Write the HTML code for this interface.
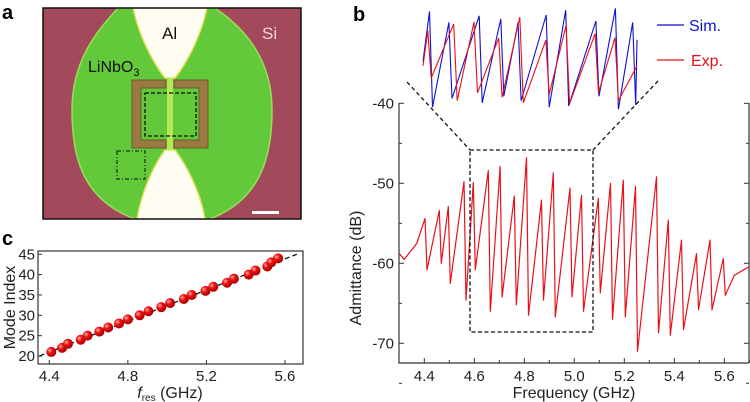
<!DOCTYPE html>
<html><head><meta charset="utf-8">
<style>
html,body{margin:0;padding:0;background:#fff;}
svg{display:block;font-family:"Liberation Sans",Arial,sans-serif;}
</style></head>
<body>
<svg id="fig" width="750" height="402" viewBox="0 0 750 402">
<!-- Panel a -->
<text x="2" y="19" font-size="20" font-weight="bold">a</text>
<g>
  <defs><clipPath id="clipA"><rect x="43" y="8" width="258" height="211"/></clipPath></defs>
  <g clip-path="url(#clipA)">
    <rect x="43" y="8" width="258" height="211" fill="#a24a5c"/>
    <path d="M118,8 C100,28 72,58 72,110 C72,160 84,200 135,219 L210,219 C259,200 272,160 272,110 C272,58 244,28 215,8 Z" fill="#62c93a" stroke="#9cdc5a" stroke-width="1.5"/>
    <path d="M133,8 L207,8 C200,40 185,65 175,78 L165,78 C155,65 140,40 133,8 Z" fill="#fffdf2" stroke="#e8e060" stroke-width="1.5"/>
    <path d="M137,219 L205,219 C200,190 186,165 175,150 L165,150 C154,165 142,190 137,219 Z" fill="#fffdf2" stroke="#e8e060" stroke-width="1.5"/>
    <rect x="167" y="78" width="6" height="72" fill="#b8e85a"/>
    <path d="M166,80 L132,80 L132,148 L166,148 L166,140 L141,140 L141,88 L166,88 Z" fill="#9a7a40" stroke="#6a5a30" stroke-width="1"/>
    <path d="M174,80 L208,80 L208,148 L174,148 L174,140 L199,140 L199,88 L174,88 Z" fill="#9a7a40" stroke="#6a5a30" stroke-width="1"/>
    <rect x="145" y="93" width="51" height="43" fill="none" stroke="#111" stroke-width="1.3" stroke-dasharray="4,2"/>
    <rect x="117" y="151" width="28" height="28" fill="none" stroke="#111" stroke-width="1" stroke-dasharray="4,2,1,2"/>
    <rect x="252" y="211" width="27" height="3" fill="#fff"/>
  </g>
  <rect x="43" y="8" width="258" height="211" fill="none" stroke="#111" stroke-width="1.5"/>
  <text x="162" y="39" font-size="17" fill="#111">Al</text>
  <text x="262" y="39" font-size="17" fill="#f0d8dc">Si</text>
  <text x="88" y="72" font-size="16" fill="#111">LiNbO<tspan font-size="11" dy="4">3</tspan></text>
</g>

<!-- Panel c -->
<text x="2" y="245" font-size="20" font-weight="bold">c</text>
<g id="panelC"></g>

<!-- Panel b -->
<text x="353" y="21" font-size="20" font-weight="bold">b</text>
<g id="panelB"></g>
</svg>
<script>
// ---- Panel c data ----
const modeIdx = [21,22,23,24,25,26,27,28,29,30,31,32,33,34,35,36,37,38,39,40,41,42,43,44];
const modeFreq = [4.41,4.465,4.495,4.56,4.595,4.655,4.70,4.755,4.80,4.86,4.905,4.97,5.015,5.085,5.125,5.195,5.235,5.305,5.34,5.415,5.45,5.51,5.53,5.565];
const cXTicks = [4.4,4.8,5.2,5.6];
const cYTicks = [20,25,30,35,40,45];
const fitLine = [[4.35,20],[5.66,45]];

// ---- Panel b data ----
const resFreq = [4.403,4.46,4.496,4.559,4.596,4.656,4.703,4.76,4.809,4.869,4.916,4.983,5.029,5.096,5.145,5.196,5.245,5.329,5.376,5.429,5.489,5.543,5.596];
const resPeak = [-54.4,-53.4,-52.9,-49.8,-49.9,-48.4,-47.9,-51.6,-46.8,-52.1,-48.7,-50.6,-51.5,-51.9,-50.0,-49.6,-50.4,-49.2,-54.6,-57.1,-58.8,-57.1,-59.4];
const resDip = [-60.8,-60.0,-62.5,-64.6,-60.8,-66.0,-64.2,-65.2,-66.5,-64.6,-66.7,-64.2,-66.0,-63.7,-67.0,-66.7,-71.0,-68.7,-69.0,-68.3,-65.8,-65.8,-64.0];
const expStart = [[4.30,-58.8],[4.32,-59.5],[4.35,-58.3],[4.37,-57.5]];
const expEnd = [[5.64,-61.5],[5.70,-60.4]];
const simFreq = [4.60,4.645,4.715,4.765,4.805,4.87,4.915,4.985,5.03,5.07];
const simPeak = [-45.5,-48.0,-46.5,-47.2,-48.0,-46.3,-45.2,-47.7,-44.8,-48.0];
const simDip = [-67.5,-65.5,-66.5,-65.0,-66.0,-67.5,-67.2,-65.0,-68.0,-67.0];
const bXTicks = [4.4,4.6,4.8,5.0,5.2,5.4,5.6];
const bYTicks = [-40,-50,-60,-70];

const NS = "http://www.w3.org/2000/svg";
function mk(tag, attrs, parent){ const e=document.createElementNS(NS,tag); for(const k in attrs) e.setAttribute(k,attrs[k]); parent.appendChild(e); return e; }

// ---------- Panel C ----------
(function(){
  const g=document.getElementById('panelC');
  const L=38,R=303,T=251,B=364;
  const xs=f=>49.3+(f-4.4)*196.4;
  const ys=v=>356-(v-20)*4.07;
  const frame=mk('rect',{x:L,y:T,width:R-L,height:B-T,fill:'none',stroke:'#333','stroke-width':1.2},g);
  
  
  cXTicks.forEach(t=>{
    mk('line',{x1:xs(t),x2:xs(t),y1:B,y2:B-4,stroke:'#333'},g);
    const tx=mk('text',{x:xs(t),y:B+17,'font-size':15,'text-anchor':'middle',fill:'#222'},g);
    tx.textContent=t.toFixed(1);
    
    
  });
  cYTicks.forEach(t=>{
    mk('line',{x1:L,x2:L+4,y1:ys(t),y2:ys(t),stroke:'#333'},g);
    const tx=mk('text',{x:L-3,y:ys(t)+5,'font-size':15,'text-anchor':'end',fill:'#222'},g);
    tx.textContent=t;
    
    
  });
  const fl=mk('line',{x1:xs(fitLine[0][0]),y1:ys(fitLine[0][1]),x2:xs(fitLine[1][0]),y2:ys(fitLine[1][1]),stroke:'#111','stroke-width':1.3,'stroke-dasharray':'5,3'},g);
  
  
  const defs=mk('defs',{},g);
  const rg=mk('radialGradient',{id:'ball',cx:'0.35',cy:'0.35',r:'0.7'},defs);
  mk('stop',{offset:'0',  'stop-color':'#ffb0b0'},rg);
  mk('stop',{offset:'0.4','stop-color':'#f01010'},rg);
  mk('stop',{offset:'1',  'stop-color':'#a00000'},rg);
  modeIdx.forEach((m,i)=>{
    const c=mk('circle',{cx:xs(modeFreq[i]),cy:ys(m),r:5,fill:'url(#ball)'},g);
    
    
  });
  const yl=mk('text',{x:0,y:0,'font-size':16,'text-anchor':'middle',fill:'#222',transform:`translate(15,${(T+B)/2}) rotate(-90)`},g);
  yl.textContent='Mode Index';
  
  
  const xl=mk('text',{x:170,y:398,'font-size':16,'text-anchor':'middle',fill:'#222'},g);
  xl.innerHTML='<tspan font-style="italic">f</tspan><tspan font-size="10" dy="3">res</tspan><tspan dy="-3"> (GHz)</tspan>';
  
  
})();

// ---------- Panel B ----------
(function(){
  const g=document.getElementById('panelB');
  const L=399,R=749,T=103,B=363;
  const xs=f=>424.3+(f-4.4)*250;
  const ys=v=>103.3-(v+40)*8;
  const ax=mk('path',{d:`M${L},${T} L${L},${B} L${R},${B} M${R},${T} L${R},${B}`,fill:'none',stroke:'#333','stroke-width':1.2},g);
  
  
  bXTicks.forEach(t=>{
    mk('line',{x1:xs(t),x2:xs(t),y1:B,y2:B-5,stroke:'#333'},g);
    mk('line',{x1:xs(t+0.1),x2:xs(t+0.1),y1:B,y2:B-3,stroke:'#333'},g);
    const tx=mk('text',{x:xs(t),y:B+18,'font-size':15,'text-anchor':'middle',fill:'#222'},g);
    tx.textContent=t.toFixed(1);
    
    
  });
  bYTicks.forEach(t=>{
    mk('line',{x1:L,x2:L+5,y1:ys(t),y2:ys(t),stroke:'#333'},g);
    mk('line',{x1:R,x2:R-5,y1:ys(t),y2:ys(t),stroke:'#333'},g);
    mk('line',{x1:L,x2:L+3,y1:ys(t-5),y2:ys(t-5),stroke:'#333'},g);
    mk('line',{x1:R,x2:R-3,y1:ys(t-5),y2:ys(t-5),stroke:'#333'},g);
    const tx=mk('text',{x:L-5,y:ys(t)+5,'font-size':15,'text-anchor':'end',fill:'#222'},g);
    tx.textContent=t;
    
    
  });
  const yl=mk('text',{x:0,y:0,'font-size':16,'text-anchor':'middle',fill:'#222',transform:`translate(361,${(T+B)/2+35}) rotate(-90)`},g);
  yl.textContent='Admittance (dB)';
  
  
  const xl=mk('text',{x:574,y:398,'font-size':16,'text-anchor':'middle',fill:'#222'},g);
  xl.textContent='Frequency (GHz)';
  
  

  let pts=expStart.map(p=>[p[0],p[1]]);
  resFreq.forEach((f,i)=>{ pts.push([f,resPeak[i]]); pts.push([f+0.008,resDip[i]]); });
  expEnd.forEach(p=>pts.push(p));
  const exp=mk('polyline',{points:pts.map(p=>xs(p[0]).toFixed(1)+','+ys(p[1]).toFixed(1)).join(' '),fill:'none',stroke:'#e8101a','stroke-width':1.2,'stroke-linejoin':'round'},g);
  
  

  const bx=mk('rect',{x:470,y:150,width:123,height:182,fill:'none',stroke:'#111','stroke-width':1.3,'stroke-dasharray':'4,2.5'},g);
  
  
  const c1=mk('line',{x1:407,y1:82,x2:470,y2:150,stroke:'#111','stroke-width':1.3,'stroke-dasharray':'4,3'},g);
  
  
  const c2=mk('line',{x1:658,y1:81,x2:593,y2:150,stroke:'#111','stroke-width':1.3,'stroke-dasharray':'4,3'},g);
  
  

  const f0=4.585,f1=5.08;
  const ix=f=>423+(f-f0)/(f1-f0)*214;
  const iy=v=>18+(-47-v)/20*87;
  let ipts=[[f0,-58]];
  resFreq.forEach((f,i)=>{ if(f>f0&&f<f1-0.01){ ipts.push([f,resPeak[i]]); ipts.push([f+0.008,resDip[i]]);} });
  ipts.push([f1,-58]);
  let spts=[[f0,-57]];
  simFreq.forEach((f,i)=>{ spts.push([f,simPeak[i]]); spts.push([f+0.007,simDip[i]]); });
  spts.push([f1,-52]);
  const sim=mk('polyline',{points:spts.map(p=>ix(p[0]).toFixed(1)+','+iy(p[1]).toFixed(1)).join(' '),fill:'none',stroke:'#1010d0','stroke-width':1.1},g);
  
  
  const iexp=mk('polyline',{points:ipts.map(p=>ix(p[0]).toFixed(1)+','+iy(p[1]).toFixed(1)).join(' '),fill:'none',stroke:'#e8101a','stroke-width':1.1},g);
  
  

  const l1=mk('line',{x1:657,x2:684,y1:25,y2:25,stroke:'#1010d0','stroke-width':1.3},g);
  
  
  const t1=mk('text',{x:689,y:31,'font-size':16,fill:'#1010d0'},g);
  t1.textContent='Sim.';
  
  
  const l2=mk('line',{x1:657,x2:684,y1:60,y2:60,stroke:'#e8101a','stroke-width':1.3},g);
  
  
  const t2=mk('text',{x:691,y:66,'font-size':16,fill:'#e8101a'},g);
  t2.textContent='Exp.';
  
  
})();
</script>
</body></html>
